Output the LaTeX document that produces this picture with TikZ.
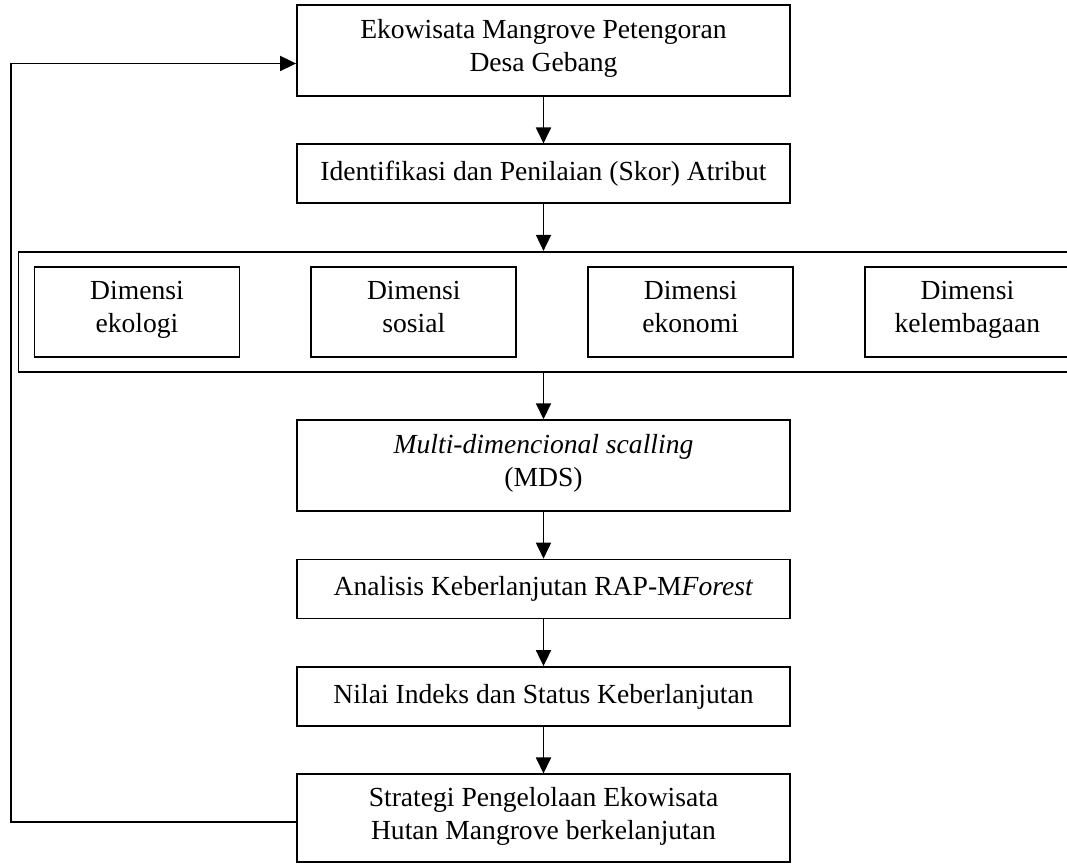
\documentclass[tikz,border=0pt]{standalone}
\usepackage{fontspec}
\setmainfont{Liberation Serif}
\usetikzlibrary{positioning, arrows.meta}

\begin{document}
\begin{tikzpicture}[
                > = {Triangle[length=8pt, width=7.5pt]}, % arrow head style
                node distance = 23.3pt, % gap between boxes
                line width = 0.9pt % line style
            ]

            \tikzstyle{every node}=[draw = black, rectangle, align = center,
            font = \fontsize{13.8pt}{16.5pt}\selectfont, inner sep = 2pt,
            execute at begin node = \strut, execute at end node = \strut]
            \tikzstyle{stepbox}=[minimum width = 246.5pt]
            \tikzstyle{dimbox}=[minimum width = 102.5pt, minimum height = 45pt]

            \useasboundingbox (0,0) rectangle (533.5pt,-432.5pt);

            \node (eko) [stepbox, minimum height = 45.5pt] at (271.75pt,-25.25pt)
            {Ekowisata Mangrove Petengoran\\Desa Gebang};
            \node (iden) [stepbox, minimum height = 29.5pt, below=of eko]
            {Identifikasi dan Penilaian (Skor) Atribut};
            \node (dims) [minimum width = 525pt, minimum height = 60pt, below=of iden] {};

            % the four dimensions inside the wide box
            \node (ekol) [dimbox, right=8pt of dims.west] {Dimensi\\ekologi};
            \node (sos) [dimbox, right=35pt of ekol] {Dimensi\\sosial};
            \node (ekon) [dimbox, right=35pt of sos] {Dimensi\\ekonomi};
            \node (lemb) [dimbox, right=35pt of ekon] {Dimensi\\kelembagaan};

            \node (mds) [stepbox, minimum height = 45.5pt, below=of dims]
            {\textit{Multi-dimencional scalling}\\(MDS)};
            \node (rap) [stepbox, minimum height = 29.5pt, below=of mds]
            {Analisis Keberlanjutan RAP-M\textit{Forest}};
            \node (nilai) [stepbox, minimum height = 29.5pt, below=of rap]
            {Nilai Indeks dan Status Keberlanjutan};
            \node (strat) [stepbox, minimum height = 44pt, below=of nilai]
            {Strategi Pengelolaan Ekowisata\\Hutan Mangrove berkelanjutan};

            \coordinate (back) at (5.5pt,0);

            \path[->] (eko) edge (iden); \path[->] (iden) edge (dims);
            \path[->] (dims) edge (mds); \path[->] (mds) edge (rap);
            \path[->] (rap) edge (nilai); \path[->] (nilai) edge (strat);

            % feedback loop back to the top
            \draw[->] ([yshift=-2pt]strat.west) -- ([yshift=-2pt]strat.west -| back)
            |- ([yshift=-6.5pt]eko.west);

        \end{tikzpicture}
\end{document}
